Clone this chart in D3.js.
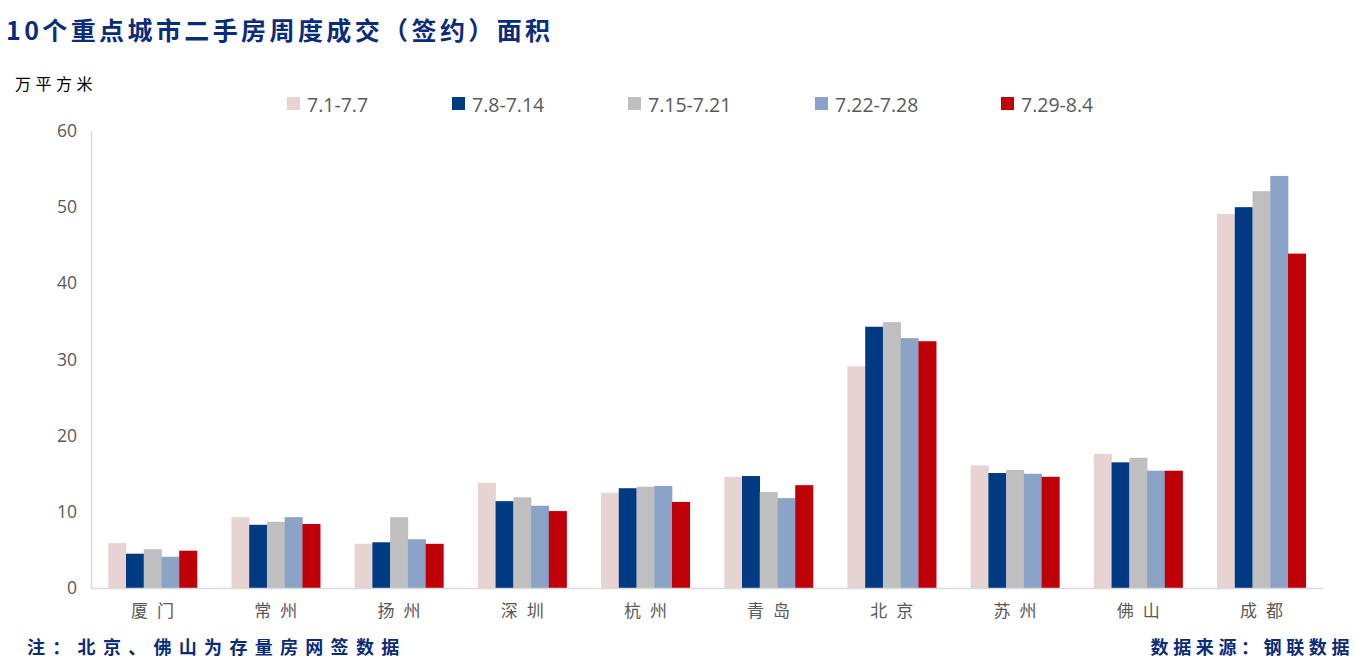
<!DOCTYPE html>
<html><head><meta charset="utf-8">
<script src="https://cdn.jsdelivr.net/npm/d3@7"></script>
<style>body{margin:0;background:#fff}svg{display:block}</style>
</head><body>
<script>
const categories = ["厦门","常州","扬州","深圳","杭州","青岛","北京","苏州","佛山","成都"];
const seriesNames = ["7.1-7.7","7.8-7.14","7.15-7.21","7.22-7.28","7.29-8.4"];
const s1 = [5.9, 9.3, 5.8, 13.8, 12.5, 14.6, 29.1, 16.1, 17.6, 49.1];
const s2 = [4.5, 8.3, 6.0, 11.4, 13.1, 14.7, 34.3, 15.1, 16.5, 50.0];
const s3 = [5.1, 8.7, 9.3, 11.9, 13.3, 12.6, 34.9, 15.5, 17.1, 52.1];
const s4 = [4.1, 9.3, 6.4, 10.8, 13.4, 11.8, 32.8, 15.0, 15.4, 54.1];
const s5 = [4.9, 8.4, 5.8, 10.1, 11.3, 13.5, 32.4, 14.6, 15.4, 43.9];
const yTicks = [0,10,20,30,40,50,60];
const colors = ["#E8D3D3","#003A82","#BFBFBF","#8AA3C6","#C00008"];
const series = [s1,s2,s3,s4,s5];

const W=1354,H=667;
const svg=d3.select("body").append("svg").attr("width",W).attr("height",H);
const pLeft=91,pRight=1323,pTop=131,pBottom=588;
const cjk='"Noto Sans CJK SC","Noto Sans",sans-serif';

const x0=d3.scaleBand().domain(categories).range([pLeft,pRight]).paddingInner(0.28).paddingOuter(0.14);
const x1=d3.scaleBand().domain(d3.range(5)).range([0,x0.bandwidth()]);
const y=d3.scaleLinear().domain([0,60]).range([pBottom,pTop]);

// title
svg.append("text").attr("x",6).attr("y",40).attr("fill","#0B2C79")
  .attr("font-family",cjk).attr("font-weight","bold").attr("font-size",25)
  .attr("letter-spacing",3.4).text("10个重点城市二手房周度成交（签约）面积");
svg.append("text").attr("x",15).attr("y",90).attr("fill","#000")
  .attr("font-family",cjk).attr("font-size",16).attr("letter-spacing",4.5).text("万平方米");

// bars
const g=svg.append("g");
categories.forEach((c,i)=>{
  series.forEach((s,j)=>{
    g.append("rect").attr("x",x0(c)+x1(j)).attr("width",x1.bandwidth()+0.3)
     .attr("y",y(s[i])).attr("height",y(0)-y(s[i])).attr("fill",colors[j]);
  });
});

// y axis
const yAxis=d3.axisLeft(y).tickValues(yTicks).tickSize(0).tickPadding(14);
const ya=svg.append("g").attr("transform",`translate(${pLeft},0)`).call(yAxis);
ya.select(".domain").attr("stroke","#D9D9D9").attr("stroke-width",1.5);
ya.selectAll("text").attr("font-family","'Open Sans','Noto Sans',sans-serif").attr("font-size",17.5).attr("fill","#595959");

// x axis
const xAxis=d3.axisBottom(x0).tickSize(0).tickPadding(17);
const xa=svg.append("g").attr("transform",`translate(0,${pBottom})`).call(xAxis);
xa.select(".domain").attr("stroke","#D9D9D9").attr("stroke-width",1.5);
xa.selectAll("text").attr("font-family",cjk).attr("font-size",17).attr("fill","#595959")
  .attr("letter-spacing",9).attr("dx",4.5);

// legend
const legX=[287,452,628,815,1001];
seriesNames.forEach((n,j)=>{
  svg.append("rect").attr("x",legX[j]).attr("y",97).attr("width",13).attr("height",13).attr("fill",colors[j]);
  svg.append("text").attr("x",legX[j]+20).attr("y",111.5).attr("font-family","'Open Sans','Noto Sans',sans-serif")
    .attr("font-size",19.5).attr("fill","#595959").text(n);
});

// footer
svg.append("text").attr("x",27).attr("y",654).attr("fill","#0B2C79").attr("font-family",cjk)
  .attr("font-weight","bold").attr("font-size",18).attr("letter-spacing",7.3).text("注：北京、佛山为存量房网签数据");
svg.append("text").attr("x",1354).attr("y",654).attr("text-anchor","end").attr("fill","#0B2C79").attr("font-family",cjk)
  .attr("font-weight","bold").attr("font-size",18).attr("letter-spacing",4.6).text("数据来源：钢联数据");
</script>
</body></html>
